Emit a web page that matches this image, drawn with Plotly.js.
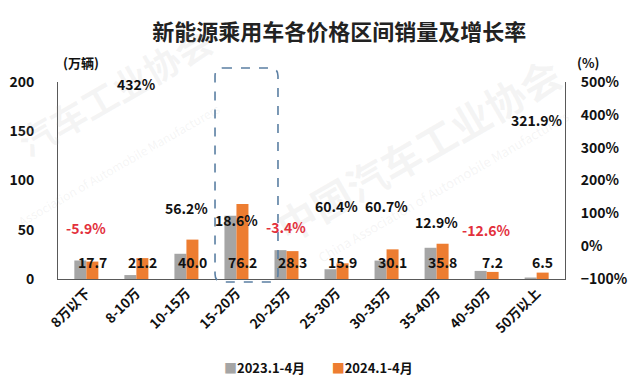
<!DOCTYPE html>
<html>
<head>
<meta charset="utf-8">
<script src="https://cdn.plot.ly/plotly-3.0.1.min.js"></script>
<style>html,body{margin:0;padding:0;background:#fff;}#chart{width:640px;height:384px;}</style>
</head>
<body>
<div id="chart"></div>
<script>
var categories = ['8万以下','8-10万','10-15万','15-20万','20-25万','25-30万','30-35万','35-40万','40-50万','50万以上'];
var sales2023 = [18.8, 4.0, 25.6, 64.2, 29.3, 9.9, 18.7, 31.7, 8.2, 1.5];
var sales2024 = [17.7, 21.2, 40.0, 76.2, 28.3, 15.9, 30.1, 35.8, 7.2, 6.5];
var growth = [-5.9, 432, 56.2, 18.6, -3.4, 60.4, 60.7, 12.9, -12.6, 321.9];
var growthText = ['-5.9%','432%','56.2%','18.6%','-3.4%','60.4%','60.7%','12.9%','-12.6%','321.9%'];
var name2023 = '2023.1-4月';
var name2024 = '2024.1-4月';

var FONT = '"Noto Sans CJK SC", "Noto Sans", sans-serif';
var GRAY = '#A5A5A5', ORANGE = '#ED7D31', RED = '#E3303C';

var traces = [
  {type:'bar', x:categories, y:sales2023, name:name2023, marker:{color:GRAY}, hoverinfo:'skip'},
  {type:'bar', x:categories, y:sales2024, name:name2024, marker:{color:ORANGE}, hoverinfo:'skip'},
  {type:'scatter', mode:'markers', x:categories, y:growth, yaxis:'y2', marker:{size:1, color:'rgba(0,0,0,0)'}, showlegend:false, hoverinfo:'skip'}
];

var annotations = [];
// faint watermark (drawn first, underneath the texts)
var wm = 'rgba(170,170,170,0.13)';
function mark(x, y, text, size, bold){
  annotations.push({xref:'paper', yref:'paper', x:x, y:y, xanchor:'center', yanchor:'middle', text:text, showarrow:false,
    textangle:-30, font:{family:FONT, size:size, color:wm, weight: bold ? 'bold' : 'normal'}});
}
mark(0.11, 0.96, '汽车工业协会', 36, true);
mark(0.12, 0.58, 'Association of Automobile Manufacturers', 12, false);
mark(0.71, 0.66, '中国汽车工业协会', 40, true);
mark(0.76, 0.47, 'China Association of Automobile Manufacturers', 13, false);
// bar value labels (2024 values), centred over the orange bar
categories.forEach(function(c, i){
  annotations.push({x:c, y:17.3, xref:'x', yref:'y', text:sales2024[i].toFixed(1), showarrow:false,
    xshift:6, font:{family:FONT, size:14, color:'#111', weight:'bold'}});
});
// growth labels above hidden points
categories.forEach(function(c, i){
  annotations.push({x:c, y:growth[i], xref:'x', yref:'y2', text:growthText[i], showarrow:false,
    yshift:20, font:{family:FONT, size:14, color: growth[i] < 0 ? RED : '#111', weight:'bold'}});
});
// axis unit labels
annotations.push({xref:'paper', yref:'paper', x:0.005, y:1.10, xanchor:'left', yanchor:'middle', text:'(万辆)', showarrow:false,
  font:{family:FONT, size:13, color:'#111', weight:'bold'}});
annotations.push({xref:'paper', yref:'paper', x:1.02, y:1.10, xanchor:'left', yanchor:'middle', text:'(%)', showarrow:false,
  font:{family:FONT, size:13, color:'#111', weight:'bold'}});
// legend drawn as text
annotations.push({xref:'paper', yref:'paper', x:0.513, y:-0.447, xanchor:'center', yanchor:'middle', showarrow:false,
  text:'<span style="color:' + GRAY + '">■</span>' + name2023 + '         <span style="color:' + ORANGE + '">■</span>' + name2024,
  font:{family:FONT, size:13, color:'#111', weight:'bold'}});

var r = 8;
var x0 = 215, x1 = 278, yt = 68, yb = 282;
function px(x){ return ((x - 58) / 507).toFixed(4); }
function py(y){ return ((279 - y) / 197).toFixed(4); }
var boxPath = 'M ' + px(x0 + r) + ' ' + py(yt) +
  ' L ' + px(x1 - r) + ' ' + py(yt) +
  ' Q ' + px(x1) + ' ' + py(yt) + ' ' + px(x1) + ' ' + py(yt + r) +
  ' L ' + px(x1) + ' ' + py(yb - r) +
  ' Q ' + px(x1) + ' ' + py(yb) + ' ' + px(x1 - r) + ' ' + py(yb) +
  ' L ' + px(x0 + r) + ' ' + py(yb) +
  ' Q ' + px(x0) + ' ' + py(yb) + ' ' + px(x0) + ' ' + py(yb - r) +
  ' L ' + px(x0) + ' ' + py(yt + r) +
  ' Q ' + px(x0) + ' ' + py(yt) + ' ' + px(x0 + r) + ' ' + py(yt) + ' Z';

var layout = {
  width:640, height:384,
  margin:{l:58, r:75, t:82, b:105, autoexpand:false},
  paper_bgcolor:'#fff', plot_bgcolor:'rgba(0,0,0,0)',
  font:{family:FONT, color:'#111'},
  title:{text:'新能源乘用车各价格区间销量及增长率', x:0.53, xanchor:'center', y:0.915, yanchor:'middle',
    font:{family:FONT, size:22, color:'#222', weight:'bold'}},
  barmode:'group', bargap:0.52, bargroupgap:0,
  showlegend:false,
  xaxis:{type:'category', tickangle:-45, showgrid:false, zeroline:false, showline:true, linecolor:'#595959', linewidth:1,
    ticks:'', automargin:false, tickfont:{family:FONT, size:13.5, color:'#111', weight:'bold'}, fixedrange:true},
  yaxis:{range:[0,200], dtick:50, showgrid:false, zeroline:false, showline:true, linecolor:'#595959', linewidth:1,
    ticks:'', automargin:false, ticklabelstandoff:20, tickfont:{family:FONT, size:14, color:'#111', weight:'bold'}},
  yaxis2:{overlaying:'y', side:'right', range:[-100,500], dtick:100, ticksuffix:'%', showgrid:false, zeroline:false,
    showline:true, linecolor:'#595959', linewidth:1, ticks:'', automargin:false, ticklabelstandoff:12,
    tickfont:{family:FONT, size:14, color:'#111', weight:'bold'}},
  annotations:annotations,
  shapes:[{type:'path', xref:'paper', yref:'paper', path:boxPath, line:{color:'#5B7FA3', width:1.6, dash:'dash'}, fillcolor:'rgba(0,0,0,0)', layer:'above'}]
};

Plotly.newPlot('chart', traces, layout, {displayModeBar:false, staticPlot:true});
</script>
</body>
</html>
